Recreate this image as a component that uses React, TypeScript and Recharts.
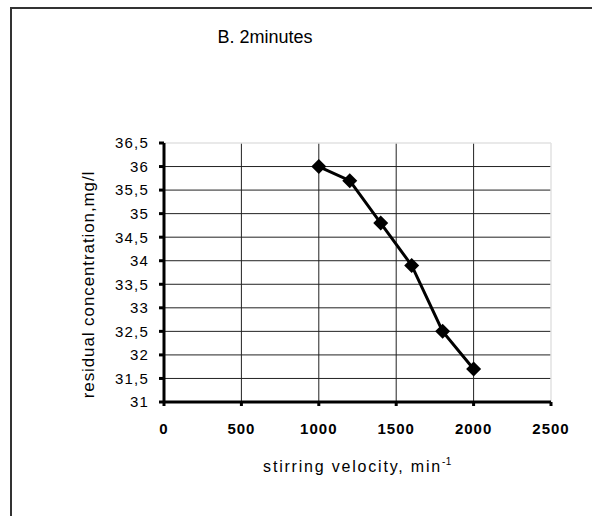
import { LineChart, Line, XAxis, YAxis, CartesianGrid, ReferenceLine } from "recharts";

const velocidad = [1000, 1200, 1400, 1600, 1800, 2000];
const concentracion = [36, 35.7, 34.8, 33.9, 32.5, 31.7];
const ticksX = [0, 500, 1000, 1500, 2000, 2500];
const ticksY = [31, 31.5, 32, 32.5, 33, 33.5, 34, 34.5, 35, 35.5, 36, 36.5];
const gridX = [500, 1000, 1500, 2000];
const gridY = [31.5, 32, 32.5, 33, 33.5, 34, 34.5, 35, 35.5, 36];

const datos = velocidad.map((v, i) => ({ v, c: concentracion[i] }));
const fuente = "'Liberation Sans', Arial, sans-serif";

function Rombo(props: any) {
  const { cx, cy } = props;
  if (cx == null || cy == null) return null;
  const r = 7.5;
  return (
    <polygon
      points={`${cx},${cy - r} ${cx + r},${cy} ${cx},${cy + r} ${cx - r},${cy}`}
      fill="#000"
    />
  );
}

function EtiquetaY({ viewBox }: any) {
  const x = viewBox.x + 94;
  const y = viewBox.y + viewBox.height / 2 + 12;
  return (
    <text x={x} y={y} transform={`rotate(-90 ${x} ${y})`} textAnchor="middle"
      fontFamily={fuente} fontSize={17} letterSpacing={0.9} fill="#000">
      residual concentration,mg/l
    </text>
  );
}

function EtiquetaX({ viewBox }: any) {
  const x = viewBox.x + viewBox.width / 2;
  const y = viewBox.y + 70;
  return (
    <text x={x} y={y} textAnchor="middle" fontFamily={fuente} fontSize={16} letterSpacing={1.8} fill="#000">
      <tspan>stirring velocity, min</tspan>
      <tspan dy={-7} fontSize={10} letterSpacing={0.5}>-1</tspan>
    </text>
  );
}

export default function App() {
  return (
    <div style={{ position: "absolute", left: 0, top: 0, width: 592, height: 516, background: "#fff", overflow: "hidden" }}>
      <div style={{ position: "absolute", left: 10, top: 7, width: 620, height: 540, border: "2px solid #333" }} />
      <div style={{ position: "absolute", left: 0, top: 27, width: 530, textAlign: "center", fontFamily: fuente, fontSize: 18, color: "#000" }}>
        B. 2minutes
      </div>
      <div style={{ position: "absolute", left: 0, top: 0 }}>
        <LineChart width={592} height={516} data={datos} margin={{ top: 143, right: 41, bottom: 0, left: 0 }}>
          <CartesianGrid stroke="#222" strokeWidth={1} horizontalValues={gridY} verticalValues={gridX} />
          <ReferenceLine y={36.5} stroke="#e2e2e2" strokeWidth={1.5} />
          <ReferenceLine x={2500} stroke="#e2e2e2" strokeWidth={1.5} />
          <XAxis
            dataKey="v" type="number" domain={[0, 2500]} ticks={ticksX} height={114}
            axisLine={{ stroke: "#000", strokeWidth: 3 }} tickLine={{ stroke: "#000", strokeWidth: 3 }}
            tickSize={4} tickMargin={17}
            tick={{ fill: "#000", fontSize: 15, fontWeight: "bold", fontFamily: fuente, letterSpacing: 1 }}
            label={<EtiquetaX />}
          />
          <YAxis
            type="number" domain={[31, 36.5]} ticks={ticksY} width={164} interval={0}
            tickFormatter={(t) => String(t).replace(".", ",")}
            axisLine={{ stroke: "#000", strokeWidth: 3 }} tickLine={{ stroke: "#000", strokeWidth: 3 }}
            tickSize={5} tickMargin={10}
            tick={{ fill: "#000", fontSize: 15, fontFamily: fuente, letterSpacing: 1.2 }}
            label={<EtiquetaY />}
          />
          <Line dataKey="c" stroke="#000" strokeWidth={3} dot={<Rombo />} activeDot={false} isAnimationActive={false} />
        </LineChart>
      </div>
    </div>
  );
}
